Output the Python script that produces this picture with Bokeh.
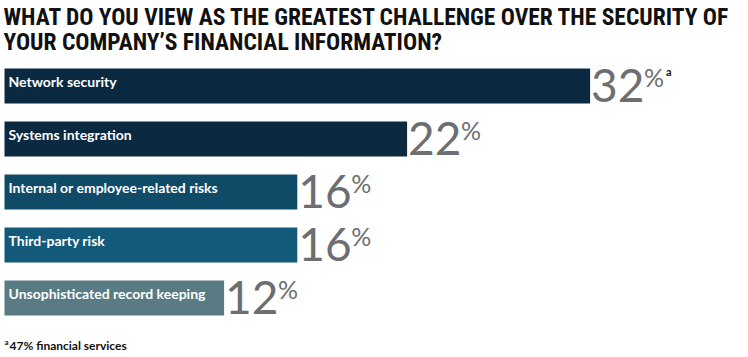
from bokeh.plotting import figure
from bokeh.models import Range1d, Label, ColumnDataSource
from bokeh.core.properties import value
from bokeh.embed import file_html
from bokeh.resources import INLINE

categories = ["Network security", "Systems integration",
              "Internal or employee-related risks", "Third-party risk",
              "Unsophisticated record keeping"]
values = [32, 22, 16, 16, 12]
value_labels = ["32", "22", "16", "16", "12"]
colors = ["#0b2a42", "#0b2a42", "#0f4a66", "#13597a", "#587b84"]
footnote_marks = ["a", "", "", "", ""]
title_lines = ["WHAT DO YOU VIEW AS THE GREATEST CHALLENGE OVER THE SECURITY OF",
               "YOUR COMPANY\u2019S FINANCIAL INFORMATION?"]
footnote_mark = "a"
footnote_text = "47% financial services"

W, H = 748, 357
PX = 18.3      # pixels per percentage point
LEFT = 4
p = figure(width=W, height=H, output_backend="svg", toolbar_location=None,
           min_border=0, x_axis_location=None, y_axis_location=None,
           x_range=Range1d(-LEFT / PX, (W - LEFT) / PX),
           y_range=Range1d(5.123, -1.613))
p.grid.visible = False
p.outline_line_color = None
p.background_fill_color = "white"
p.border_fill_color = "white"

idx = list(range(len(categories)))
src = ColumnDataSource(dict(y=idx, v=values, cat=categories, lab=value_labels,
                            col=colors, mark=footnote_marks,
                            zero=[0] * len(idx), pct=["%"] * len(idx)))

p.hbar(y="y", left="zero", right="v", height=0.66, fill_color="col",
       line_color=None, source=src)

p.text(x="zero", y="y", text="cat", source=src, x_offset=4, y_offset=-13,
       text_baseline="top", text_color="white", text_font=value("Lato"),
       text_font_style="bold", text_font_size="14px")

p.text(x="v", y="y", text="lab", source=src, x_offset=1, y_offset=0,
       text_baseline="middle", text_color="#6d6e71",
       text_font=value("Lato"), text_font_size="46px")

p.text(x="v", y="y", text="pct", source=src, x_offset=54, y_offset=-24,
       text_baseline="top", text_color="#6d6e71",
       text_font=value("Lato"), text_font_size="25px")

p.text(x="v", y="y", text="mark", source=src, x_offset=76, y_offset=-21,
       text_baseline="top", text_color="#111111",
       text_font=value("Lato"), text_font_style="bold", text_font_size="11px")

for i, line in enumerate(title_lines):
    p.add_layout(Label(x=3, y=H - 2 - i * 25, x_units="screen", y_units="screen",
                       text=line, text_baseline="top", text_color="#111111",
                       text_font="'Roboto Condensed', Roboto", text_font_style="bold",
                       text_font_size="23.5px"))

p.add_layout(Label(x=4, y=H - 336, x_units="screen", y_units="screen",
                   text=footnote_mark, text_baseline="top", text_color="#111111",
                   text_font="Lato", text_font_style="bold", text_font_size="8px"))
p.add_layout(Label(x=9, y=H - 337, x_units="screen", y_units="screen",
                   text=footnote_text, text_baseline="top", text_color="#111111",
                   text_font="Lato", text_font_style="bold", text_font_size="12px"))

open("out.html", "w").write(file_html(p, INLINE))
